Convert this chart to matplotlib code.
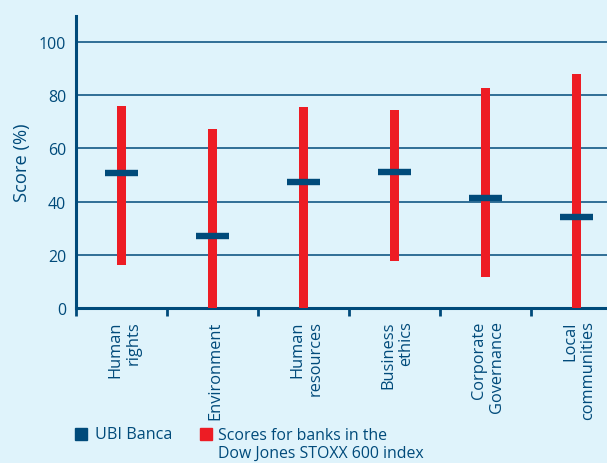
import matplotlib.pyplot as plt
from matplotlib.patches import Rectangle

# values
categories = ["Human\nrights", "Environment", "Human\nresources",
              "Business\nethics", "Corporate\nGovernance", "Local\ncommunities"]
banks_low = [16.3, 0, 0, 17.5, 11.5, 0]
banks_high = [76.0, 67.4, 75.7, 74.5, 82.8, 88.1]
ubi = [50.6, 26.9, 47.2, 51.2, 41.2, 34.1]

bg = "#dff3fb"
dark = "#004a7a"
red = "#ed1c24"

plt.rcParams['font.family'] = ['Open Sans', 'DejaVu Sans']

fig = plt.figure(figsize=(6.07, 4.64), dpi=100, facecolor=bg)
ax = fig.add_axes([76/607, 1-309/464, 1-76/607, (309-17)/464])
ax.set_facecolor(bg)

x = list(range(len(categories)))
heights = [h - l for h, l in zip(banks_high, banks_low)]
ax.bar(x, heights, bottom=banks_low, width=0.1, color=red, zorder=3)
ax.hlines(ubi, [i - 0.18 for i in x], [i + 0.18 for i in x], color=dark, lw=4.6, zorder=4)

ax.set_xlim(-0.5, 5.335)
ax.set_ylim(0, 109.8)
ax.set_yticks([0, 20, 40, 60, 80, 100])
ax.yaxis.grid(True, color=dark, lw=1.1, zorder=1)
ax.set_axisbelow(True)

ax.set_xticks([i - 0.5 for i in x])
ax.set_xticks([i + 0.03 for i in x], minor=True)
ax.set_xticklabels([])
ax.set_xticklabels(categories, minor=True, rotation=90, ha='center', va='top',
                   multialignment='right', fontsize=11.8, color=dark, linespacing=1.2)
ax.tick_params(axis='x', which='major', direction='out', length=6, width=2, color=dark)
ax.tick_params(axis='x', which='minor', length=0, pad=9)
ax.tick_params(axis='y', length=0, pad=7, labelsize=11.5, labelcolor=dark)

for s in ['top', 'right']:
    ax.spines[s].set_visible(False)
for s in ['left', 'bottom']:
    ax.spines[s].set_color(dark)
    ax.spines[s].set_linewidth(2.2)

ax.set_ylabel("Score (%)", fontsize=13.2, color=dark, labelpad=6)

# legend drawn by hand to keep the layout of the original
fig.add_artist(Rectangle((75/607, 1-441/464), 12/607, 12/464, transform=fig.transFigure,
                         color=dark))
fig.text(95/607, 1-435/464, "UBI Banca", fontsize=11.6, color=dark, va='center')
fig.add_artist(Rectangle((200/607, 1-441/464), 12/607, 12/464, transform=fig.transFigure,
                         color=red))
fig.text(218/607, 1-445/464, "Scores for banks in the\nDow Jones STOXX 600 index",
         fontsize=11.4, color=dark, va='center', linespacing=1.2)

fig.savefig("out.png", dpi=100, facecolor=bg)
